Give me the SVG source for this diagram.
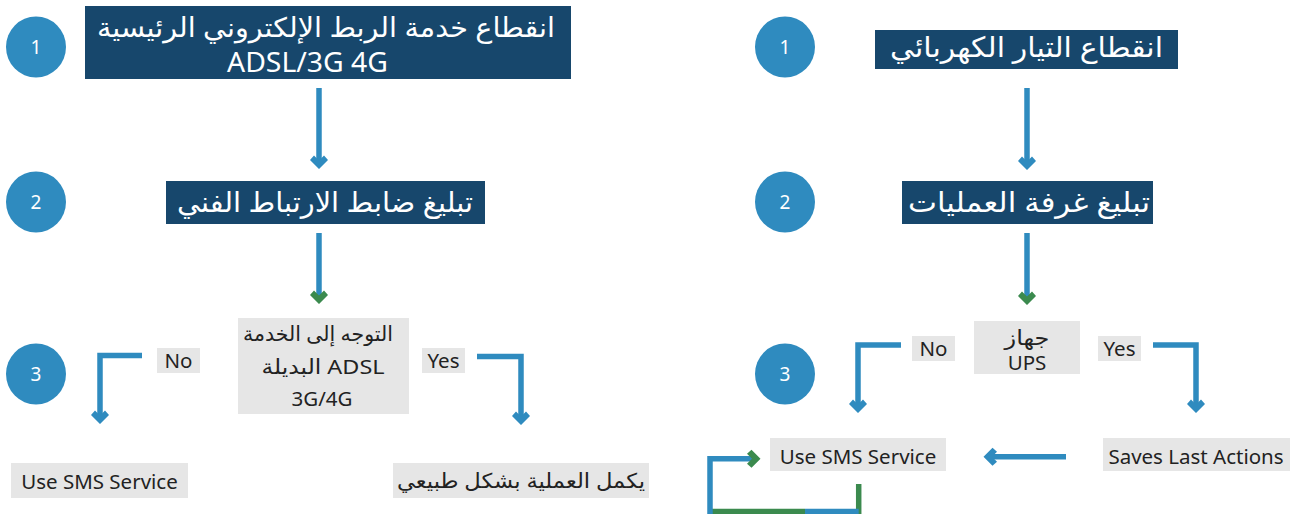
<svg xmlns="http://www.w3.org/2000/svg" xmlns:xlink="http://www.w3.org/1999/xlink" width="1294" height="514" viewBox="0 0 1294 514">
<style>
.circ{fill:#2f8bbf}
.num{fill:#fff;font-family:"Noto Sans","DejaVu Sans",sans-serif;font-size:19px;text-anchor:middle;dominant-baseline:central}
.navy{fill:#17476c}
.gray{fill:#e6e6e6}
.wt{fill:#fff;font-family:"Noto Sans","DejaVu Sans",sans-serif;font-size:28px;text-anchor:middle;dominant-baseline:central}
.dt{fill:#222;font-family:"Noto Sans","DejaVu Sans",sans-serif;font-size:20.5px;text-anchor:middle;dominant-baseline:central}
.bl{stroke:#2f8bbf;stroke-width:5.5;fill:none}
.gl{stroke:#3b8a4e;stroke-width:5.5;fill:none}
.bh{fill:#2f8bbf}
.gh{fill:#3b8a4e}
</style>
<defs>
<polygon id="hd" points="0,0 -9,-9 -5,-13.5 0,-8.5 5,-13.5 9,-9"/>
</defs>

<!-- Left panel -->
<g id="l-c1"><ellipse class="circ" cx="36" cy="47" rx="30" ry="30.5"/><text class="num" x="36" y="47">1</text></g>
<g id="l-c2"><ellipse class="circ" cx="36" cy="202" rx="30" ry="30.5"/><text class="num" x="36" y="202">2</text></g>
<g id="l-c3"><ellipse class="circ" cx="36" cy="374" rx="30" ry="30.5"/><text class="num" x="36" y="374">3</text></g>

<g id="l-n1"><rect class="navy" x="85" y="6" width="486" height="73"/>
<text class="wt" x="326" y="26" direction="rtl" textLength="458" lengthAdjust="spacingAndGlyphs" style="font-size:27px">انقطاع خدمة الربط الإلكتروني الرئيسية</text>
<text class="wt" x="307.5" y="61" textLength="161" lengthAdjust="spacingAndGlyphs" style="font-size:27px">ADSL/3G 4G</text></g>

<g id="l-n2"><rect class="navy" x="166" y="181" width="319" height="43"/>
<text class="wt" x="325" y="201" direction="rtl" textLength="296" lengthAdjust="spacingAndGlyphs">تبليغ ضابط الارتباط الفني</text></g>

<g id="l-n3"><rect class="gray" x="238" y="318" width="171" height="96"/>
<text class="dt" x="318" y="333" direction="rtl" textLength="150" lengthAdjust="spacingAndGlyphs">التوجه إلى الخدمة</text>
<text class="dt" x="323" y="366" direction="rtl" textLength="123" lengthAdjust="spacingAndGlyphs">ADSL  البديلة</text>
<text class="dt" x="322" y="398">3G/4G</text></g>

<g id="l-no"><rect class="gray" x="157" y="348" width="43" height="25"/><text class="dt" x="178.5" y="360">No</text></g>
<g id="l-yes"><rect class="gray" x="422" y="348" width="43" height="25"/><text class="dt" x="443.5" y="360">Yes</text></g>

<g id="l-sms"><rect class="gray" x="11" y="463" width="177" height="35"/><text class="dt" x="99.5" y="481">Use SMS Service</text></g>
<g id="l-ok"><rect class="gray" x="393" y="463" width="256" height="35"/><text class="dt" x="521" y="480" direction="rtl" textLength="248" lengthAdjust="spacingAndGlyphs">يكمل العملية بشكل طبيعي</text></g>

<!-- Right panel -->
<g id="r-c1"><ellipse class="circ" cx="785" cy="47" rx="30" ry="30.5"/><text class="num" x="785" y="47">1</text></g>
<g id="r-c2"><ellipse class="circ" cx="785" cy="202" rx="30" ry="30.5"/><text class="num" x="785" y="202">2</text></g>
<g id="r-c3"><ellipse class="circ" cx="785" cy="374" rx="30" ry="30.5"/><text class="num" x="785" y="374">3</text></g>

<g id="r-n1"><rect class="navy" x="875" y="30" width="303" height="39"/>
<text class="wt" x="1026.5" y="46" direction="rtl" textLength="273" lengthAdjust="spacingAndGlyphs">انقطاع التيار الكهربائي</text></g>

<g id="r-n2"><rect class="navy" x="902" y="181" width="251" height="43"/>
<text class="wt" x="1029" y="201" direction="rtl" textLength="242" lengthAdjust="spacingAndGlyphs">تبليغ غرفة العمليات</text></g>

<g id="r-n3"><rect class="gray" x="974" y="321" width="106" height="53"/>
<text class="dt" x="1027" y="337" direction="rtl" textLength="45" lengthAdjust="spacingAndGlyphs">جهاز</text>
<text class="dt" x="1027" y="362">UPS</text></g>

<g id="r-no"><rect class="gray" x="912" y="336" width="43" height="25"/><text class="dt" x="933.5" y="348">No</text></g>
<g id="r-yes"><rect class="gray" x="1098" y="336" width="43" height="25"/><text class="dt" x="1119.5" y="348">Yes</text></g>

<g id="r-sms"><rect class="gray" x="770" y="438" width="176" height="33"/><text class="dt" x="858" y="455.5">Use SMS Service</text></g>
<g id="r-save"><rect class="gray" x="1103" y="438" width="187" height="33"/><text class="dt" x="1196" y="455.5">Saves Last Actions</text></g>

<!-- Connectors -->
<g id="connectors">
<line class="bl" x1="319" y1="88" x2="319" y2="162"/>
<use href="#hd" class="bh" transform="translate(319,169)"/>
<line class="bl" x1="319" y1="233" x2="319" y2="297"/>
<use href="#hd" class="gh" transform="translate(319,304)"/>
<polyline class="bl" points="142,355.5 100,355.5 100,417"/>
<use href="#hd" class="bh" transform="translate(100,424)"/>
<polyline class="bl" points="477,356.5 521,356.5 521,418"/>
<use href="#hd" class="bh" transform="translate(521,425)"/>

<line class="bl" x1="1027" y1="88" x2="1027" y2="162"/>
<use href="#hd" class="bh" transform="translate(1027,170)"/>
<line class="bl" x1="1027" y1="233" x2="1027" y2="298"/>
<use href="#hd" class="gh" transform="translate(1027,305)"/>
<polyline class="bl" points="901,345 858,345 858,406"/>
<use href="#hd" class="bh" transform="translate(858,413)"/>
<polyline class="bl" points="1153,345 1196,345 1196,406"/>
<use href="#hd" class="bh" transform="translate(1196,413)"/>
<line class="bl" x1="1066" y1="456.7" x2="991" y2="456.7"/>
<use href="#hd" class="bh" transform="translate(983.5,456.7) rotate(90)"/>

<line class="gl" x1="858.7" y1="484" x2="858.7" y2="514"/>
<line class="bl" x1="858.7" y1="511.5" x2="805" y2="511.5"/>
<line class="gl" x1="805" y1="511.5" x2="712" y2="511.5"/>
<polyline class="bl" points="710,514 710,458.7 753,458.7"/>
<use href="#hd" class="gh" transform="translate(760.5,458.7) rotate(-90)"/>
</g>
</svg>
